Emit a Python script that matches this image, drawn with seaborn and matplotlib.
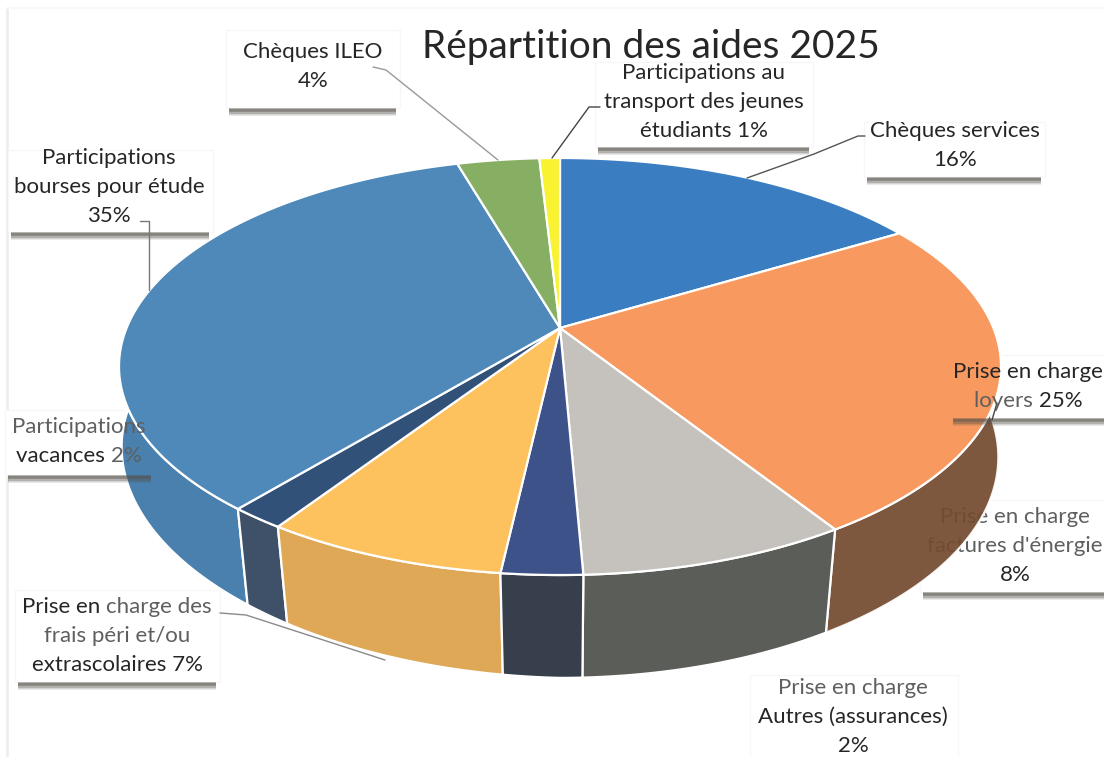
import numpy as np
import matplotlib
matplotlib.use('Agg')
import matplotlib.pyplot as plt
from matplotlib.patches import Rectangle
import seaborn as sns

# --- Data ---
categories = ['Chèques services', 'Prise en charge loyers', "Prise en charge factures d'énergie",
              'Prise en charge Autres (assurances)', 'Prise en charge des frais péri et/ou extrascolaires',
              'Participations vacances', 'Participations bourses pour étude', 'Chèques ILEO',
              'Participations au transport des jeunes étudiants']
values = [16.4, 24.6, 8.3, 2.49, 7.49, 1.72, 34.5, 3.6, 0.9]
title_text = 'Répartition des aides 2025'

# one list of (line, colour) runs per label, same order as categories
DARK = '#262626'
MID = '#5f5f5f'
label_lines = [
    [[('Chèques services', DARK)], [('16%', DARK)]],
    [[('Prise en charge', DARK)], [('loyers ', MID), ('25%', DARK)]],
    [[('Prise en charge', MID)], [("factures d'énergie", MID)], [('8%', DARK)]],
    [[('Prise en charge', MID)], [('Autres (assurances)', DARK)], [('2%', DARK)]],
    [[('Prise en ', DARK), ('charge des', MID)], [('frais péri et/ou', MID)], [('extrascolaires 7%', DARK)]],
    [[('Participations', MID)], [('vacances ', DARK), ('2%', MID)]],
    [[('Participations', DARK)], [('bourses pour étude', DARK)], [('35%', DARK)]],
    [[('Chèques ILEO', DARK)], [('4%', DARK)]],
    [[('Participations au', DARK)], [('transport des jeunes', DARK)], [('étudiants 1%', DARK)]],
]

# --- Style ---
top_colors = sns.color_palette(['#3a7dc1', '#f89a5f', '#c5c2bd', '#3d5289', '#fdc25d',
                                '#315179', '#4e89ba', '#86af63', '#f9f230'])
wall_colors = sns.color_palette(['#2f6298', '#744a30', '#5b5d59', '#363f4b', '#dfa857',
                                 '#3f5169', '#4a80ae', '#65854a', '#b8b320'])

# label layout, pixels: centre x, first line y, box (x0, y0, x1, y1), shadow or not
label_x = [955, 1028, 1015, 853, 117, 79, 109, 313, 704]
label_y = [131, 372, 517, 688, 607, 427, 158, 52, 73]
boxes = [(864, 122, 1045, 177), (950, 355, 1110, 418), (920, 500, 1110, 592), (750, 675, 958, 770),
         (15, 590, 220, 682), (5, 410, 155, 475), (8, 150, 213, 232), (226, 30, 400, 108), (595, 62, 813, 147)]
shadows = [True, True, True, False, True, True, True, True, True]
leaders = [
    ([865, 858, 814, 747], [136, 136, 154, 178], '#555555'),
    ([997, 992], [403, 420], '#444444'),
    ([220, 246, 385], [613, 615, 660], '#8a8a8a'),
    ([140, 149, 149], [221, 221, 290], '#777777'),
    ([373, 386, 498], [67, 70, 160], '#999999'),
    ([600, 589, 552], [107, 107, 158], '#444444'),
]

# perspective of the disc, pixels
CX, CY = 560, 328
A, B = 433.4, 201.4
K_TOP, K_BOTTOM = 0.1847, 0.15
DEPTH = 96


def project_top(theta):
    u = np.cos(np.radians(theta))
    v = np.sin(np.radians(theta))
    d = 1 + K_TOP * v
    return CX + A * u / d, CY - B * v / d


def project_bottom(theta):
    u = np.cos(np.radians(theta))
    v = np.sin(np.radians(theta))
    d = 1 + K_BOTTOM * v
    # the scan is a little tilted: the wall looks thinner on the left
    depth = DEPTH + 10 * np.minimum(u, 0)
    return CX + A * u / d, CY + (-B * v + depth) / d


sns.set_theme(style='white')
plt.rcParams['font.family'] = ['Lato', 'DejaVu Sans']

fig = plt.figure(figsize=(11.04, 7.57), dpi=100)
ax = fig.add_axes([0, 0, 1, 1])

# the pie gives the angles of the slices
wedges, _ = ax.pie(values, startangle=90, counterclock=False)
angles = [(w.theta1, w.theta2) for w in wedges]
for w in wedges:
    w.remove()
ax.set_aspect('auto')
ax.set_xlim(0, 1104)
ax.set_ylim(757, 0)
ax.axis('off')

# scan edges of the page
ax.plot([7, 7], [8, 757], color='#eeeeee', lw=2, zorder=0)
ax.plot([7, 1104], [8, 8], color='#f8f8f8', lw=1.5, zorder=0)

# label boxes sit under the pie
for (x0, y0, x1, y1), has_shadow in zip(boxes, shadows):
    ax.add_patch(Rectangle((x0, y0), x1 - x0, y1 - y0, fc='white', ec='#f7f7f7', lw=1, zorder=1))

# walls, from back to front
wall_order = [7, 8, 0, 6, 1, 5, 4, 2, 3]
for i in wall_order:
    t1, t2 = angles[i]
    t = np.linspace(t1, t2, 120)
    xt, yt = project_top(t)
    xb, yb = project_bottom(t)
    ax.fill(np.r_[xt, xb[::-1]], np.r_[yt, yb[::-1]], fc=wall_colors[i], ec='white', lw=1.6,
            alpha=0.93 if i == 1 else 1, zorder=3, joinstyle='round')

# top faces
for i, (t1, t2) in enumerate(angles):
    t = np.linspace(t1, t2, 160)
    x, y = project_top(t)
    ax.fill(np.r_[CX, x], np.r_[CY, y], fc=top_colors[i], ec='white', lw=1.6, zorder=4, joinstyle='round')

# shadows under the boxes
for (x0, y0, x1, y1), has_shadow in zip(boxes, shadows):
    if not has_shadow:
        continue
    for k, a in enumerate([0.4, 0.7, 0.65, 0.45, 0.25, 0.12]):
        ax.add_patch(Rectangle((x0 + 3, y1 + k * 1.4), x1 - x0 - 7, 1.4, fc='#55504a', ec='none', alpha=a, zorder=5))

for xs, ys, col in leaders:
    ax.plot(xs, ys, color=col, lw=1, zorder=6)

# labels, factures d'énergie runs under the wall as in the scan
r = fig.canvas.get_renderer()
for i, lines in enumerate(label_lines):
    z = 2 if i == 2 else 7
    for j, runs in enumerate(lines):
        y = label_y[i] + j * 29
        texts = [ax.text(0, y, s, color=c, fontsize=16, va='center', ha='left', zorder=z) for s, c in runs]
        # trailing spaces count in the run width
        widths = [ax.text(0, y, s.replace(' ', '\u00a0'), fontsize=16, alpha=0).get_window_extent(r).width
                  for s, c in runs]
        x = label_x[i] - sum(widths) / 2
        for t, w in zip(texts, widths):
            t.set_x(x)
            x += w

ax.text(651, 47, title_text, fontsize=28, color='#262626', ha='center', va='center', zorder=8)

fig.savefig('out.png', dpi=100)
